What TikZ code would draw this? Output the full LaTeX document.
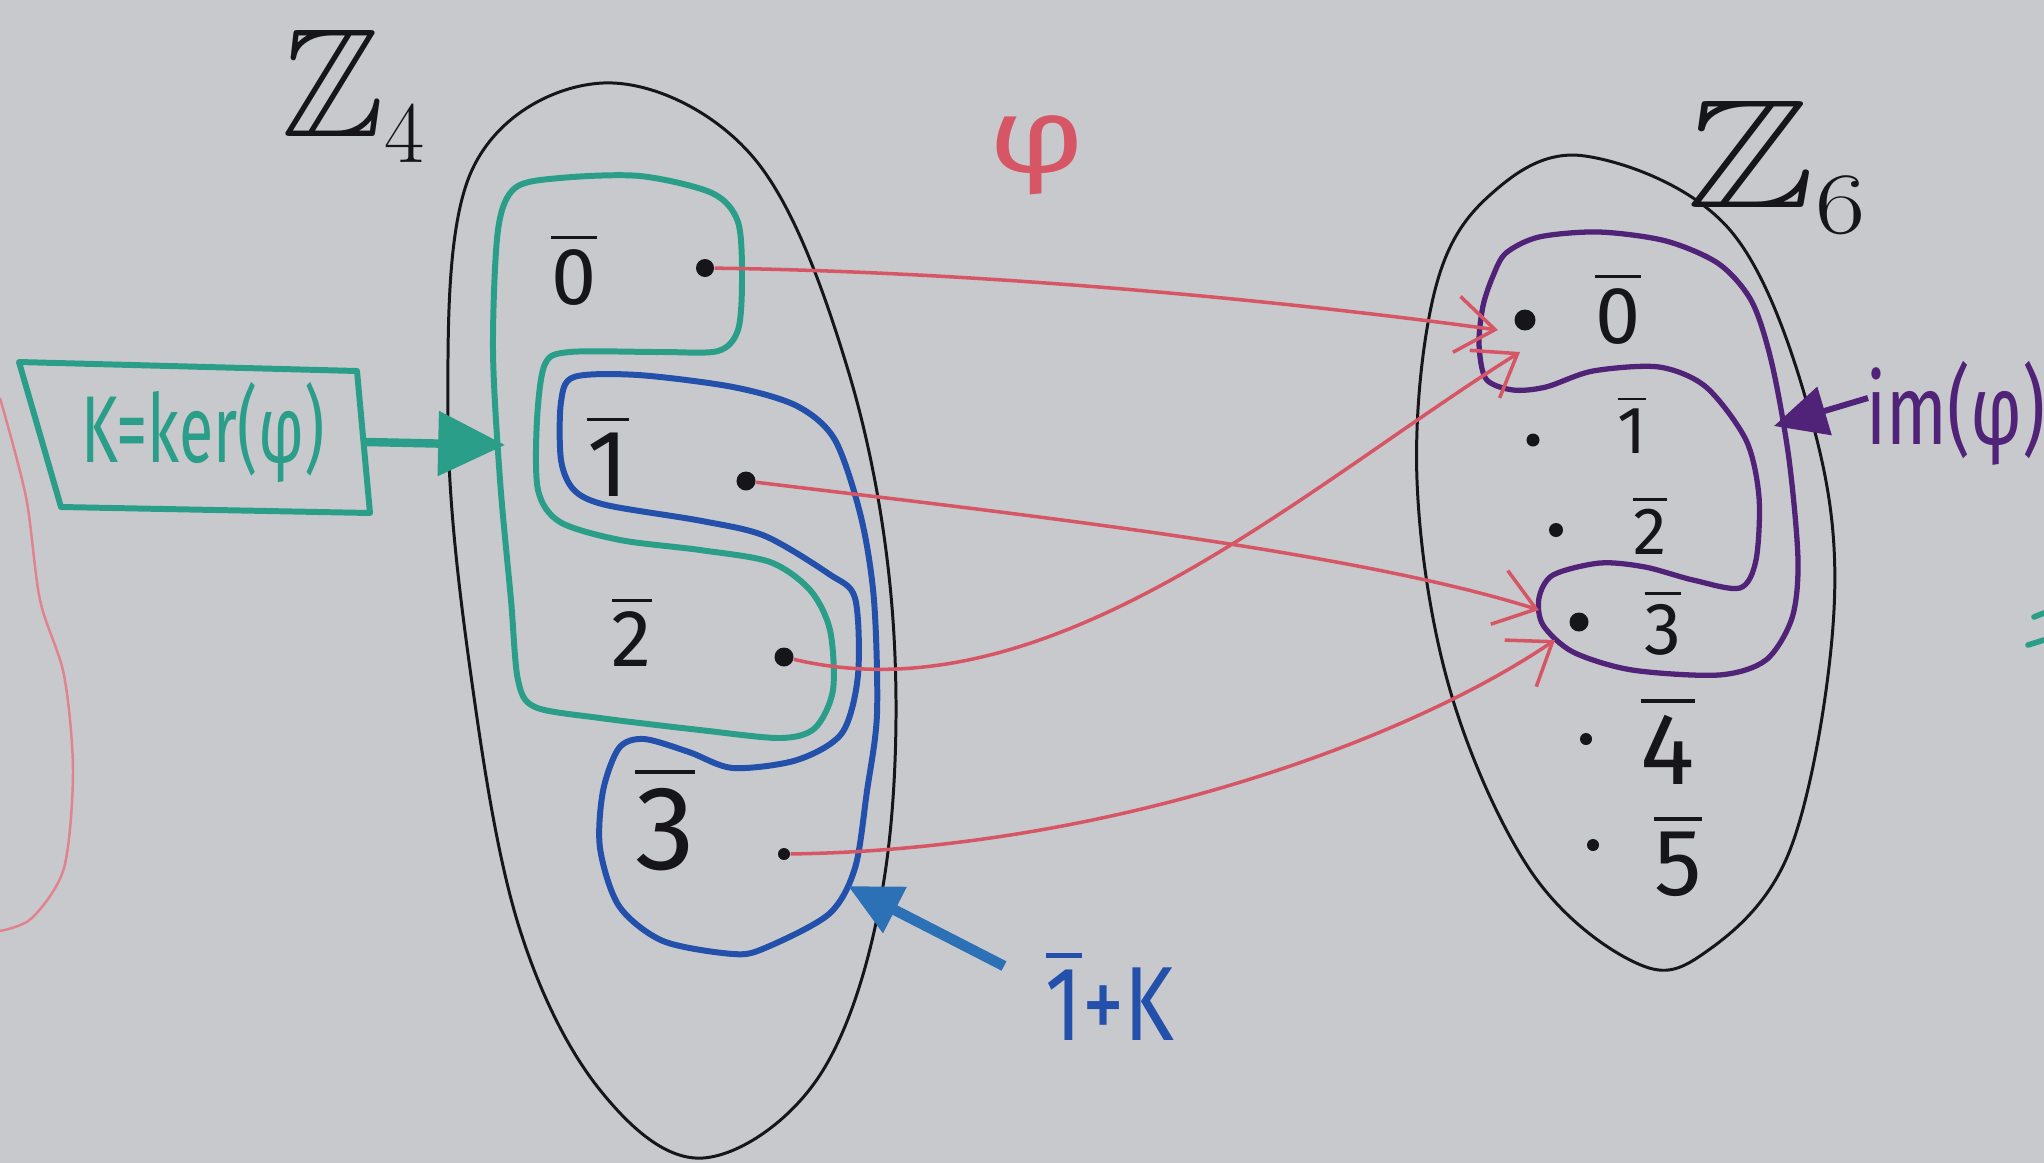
\documentclass[tikz,border=0pt]{standalone}
\usepackage{amssymb}
\usepackage{fontspec}
\setmainfont{Fira Sans}
\usetikzlibrary{arrows.meta}
\definecolor{board}{RGB}{200,201,204}
\definecolor{tealpen}{RGB}{42,158,136}
\definecolor{bluepen}{RGB}{34,80,170}
\definecolor{bluearrow}{RGB}{44,112,182}
\definecolor{purppen}{RGB}{80,34,120}
\definecolor{redpen}{RGB}{214,86,102}
\definecolor{pinkpen}{RGB}{226,130,142}
\definecolor{ink}{RGB}{22,22,26}
\newcommand\ovl[1]{$\overline{\hbox{#1}}$}
\newcommand\fs[1]{\fontsize{#1}{#1}\selectfont}
\begin{document}
\begin{tikzpicture}[x=0.01cm,y=-0.01cm,
  elem/.style={text=ink, inner sep=0pt},
  dotn/.style={circle, fill=ink, inner sep=0pt, minimum size=#1},
  setline/.style={draw=ink, line width=0.85pt},
  mapline/.style={draw=redpen, line width=1pt, -{Straight Barb[length=11pt,width=16pt]}},
  kerline/.style={draw=tealpen, line width=1.7pt, line join=round},
  cosetline/.style={draw=bluepen, line width=1.7pt, line join=round},
  imline/.style={draw=purppen, line width=1.5pt, line join=round}
]
\fill[board] (0,0) rectangle (2044,1163);
\useasboundingbox (0,0) rectangle (2044,1163);

% faint pink stroke at far left
\draw[pinkpen, line width=0.7pt] plot[smooth] coordinates {(0,398) (26,497) (40,600) (64,675) (73,771) (64,868) (32,918) (0,931)};

% the two sets
\draw[setline] plot[smooth cycle, tension=0.6] coordinates {(603,83) (753,157) (848,370) (893,620) (884,880) (820,1075) (703,1158) (600,1090) (520,930) (473,690) (448,420) (472,170)};
\draw[setline] plot[smooth cycle, tension=0.6] coordinates {(1585,156) (1730,230) (1812,421) (1834,610) (1790,850) (1700,956) (1630,960) (1530,870) (1450,690) (1417,480) (1435,290) (1490,195)};

% set names
\node[elem, anchor=base west, font=\fs{44}] (z4) at (281,136) {$\mathbb{Z}_4$};
\node[elem, anchor=base west, font=\fs{44}, xscale=1.25] (z6) at (1686,207) {$\mathbb{Z}_6$};

% kernel outline (teal)
\draw[kerline] plot[smooth cycle, tension=0.5] coordinates {(498,230) (515,188) (560,178) (640,176) (712,193) (738,222) (742,280) (738,330) (718,351) (660,352) (570,352) (545,364) (537,420) (538,490) (560,522) (620,540) (700,550) (770,562) (810,590) (830,630) (833,690) (815,728) (780,738) (700,730) (600,718) (535,707) (518,680) (511,600) (500,480) (493,350)};

% coset 1+K outline (blue)
\draw[cosetline] plot[smooth cycle, tension=0.5] coordinates {(574,377) (638,375) (733,387) (797,406) (835,440) (861,517) (874,600) (877,714) (867,791) (855,868) (829,914) (765,948) (733,954) (663,941) (619,906) (600,848) (603,791) (619,748) (644,739) (689,752) (733,768) (797,760) (842,733) (858,675) (855,598) (829,574) (765,536) (702,521) (606,505) (574,490) (561,460) (561,402)};

% image outline (purple)
\draw[imline] plot[smooth cycle, tension=0.5] coordinates {(1493,276) (1506,253) (1539,237) (1599,232) (1666,241) (1719,264) (1752,302) (1772,364) (1789,459) (1798,560) (1792,618) (1766,660) (1719,675) (1632,670) (1573,652) (1543,625) (1539,598) (1553,575) (1600,563) (1645,567) (1693,580) (1740,588) (1756,560) (1759,497) (1746,440) (1706,387) (1659,367) (1593,371) (1546,387) (1513,390) (1486,379) (1479,344) (1483,306)};

% elements of Z4
\node[elem, font=\fs{23}] (l0) at (574,269) {\ovl{0}};
\node[elem, font=\fs{27}] (l1) at (608,455) {\ovl{1}};
\node[elem, font=\fs{23}] (l2) at (632,631) {\ovl{2}};
\node[elem, font=\fs{34}] (l3) at (665,818) {\ovl{3}};
\node[dotn=0.18cm] (d0) at (705,268) {};
\node[dotn=0.19cm] (d1) at (746,481) {};
\node[dotn=0.19cm] (d2) at (784,657) {};
\node[dotn=0.12cm] (d3) at (784,854) {};

% elements of Z6
\node[elem, font=\fs{23}] (r0) at (1618,308) {\ovl{0}};
\node[elem, font=\fs{19}] (r1) at (1632,424) {\ovl{1}};
\node[elem, font=\fs{19}] (r2) at (1650,525) {\ovl{2}};
\node[elem, font=\fs{21}] (r3) at (1663,622) {\ovl{3}};
\node[elem, font=\fs{29}] (r4) at (1668,740) {\ovl{4}};
\node[elem, font=\fs{27}] (r5) at (1678,855) {\ovl{5}};
\node[dotn=0.21cm] (e0) at (1525,320) {};
\node[dotn=0.13cm] (e1) at (1533,440) {};
\node[dotn=0.14cm] (e2) at (1556,530) {};
\node[dotn=0.19cm] (e3) at (1579,622) {};
\node[dotn=0.12cm] (e4) at (1586,739) {};
\node[dotn=0.12cm] (e5) at (1593,845) {};

% the map phi
\node[elem, text=redpen, font=\fs{30}, xscale=1.25] (phi) at (1037,155) {φ};
\coordinate (t0) at (1498,330);
\coordinate (t1) at (1539,610);
\coordinate (t2) at (1520,352);
\coordinate (t3) at (1555,640);
\draw[mapline] (d0) .. controls (1000,272) and (1300,303) .. (t0);
\draw[mapline] (d1) .. controls (1000,512) and (1350,550) .. (t1);
\draw[mapline] (d2) .. controls (1050,720) and (1300,490) .. (t2);
\draw[mapline] (d3) .. controls (1100,850) and (1400,745) .. (t3);

% kernel label box
\coordinate (ka) at (19,362);
\coordinate (kb) at (357,371);
\coordinate (kc) at (370,513);
\coordinate (kd) at (61,507);
\draw[kerline] (ka) -- (kb) -- (kc) -- (kd) -- cycle;
\node[elem, text=tealpen, font=\fs{27}, xscale=0.66] (ker) at (203,432) {K=ker(φ)};
\coordinate (kout) at (366,442);
\coordinate (ktip) at (505,445);
\draw[tealpen, line width=2.4pt, -{Triangle[length=19pt,width=18pt]}] (kout) -- (ktip);

% coset label
\node[elem, text=bluepen, font=\fs{30}, xscale=0.8] (coset) at (1110,995) {\ovl{1}+K};
\coordinate (bs) at (1004,966);
\coordinate (bt) at (848,886);
\draw[bluearrow, line width=3pt, -{Triangle[length=15pt,width=14pt]}] (bs) -- (bt);

% image label
\node[elem, text=purppen, font=\fs{28}, xscale=0.72, anchor=east] (img) at (2046,413) {im(φ)};
\coordinate (ps) at (1868,398);
\coordinate (pt) at (1774,426);
\draw[purppen, line width=1.7pt, -{Triangle[length=15pt,width=14pt]}] (ps) -- (pt);

% cut-off teal marks at right edge
\draw[tealpen, line width=1.6pt, line cap=round] (2034,617) -- (2044,613);
\draw[tealpen, line width=1.6pt, line cap=round] (2028,645) -- (2044,640);
\end{tikzpicture}
\end{document}
